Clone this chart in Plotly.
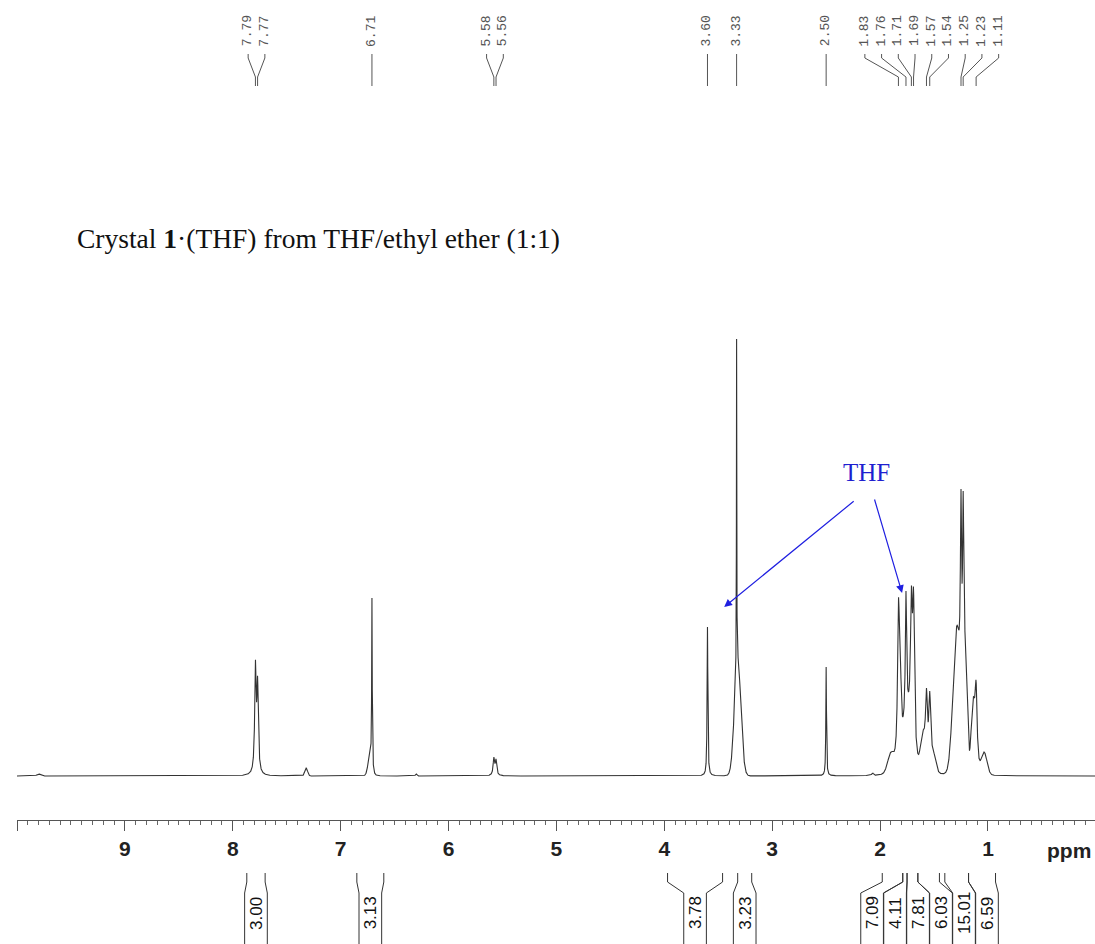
import numpy as np
import plotly.graph_objects as go

W, H = 1095, 944

# ---------------------------------------------------------------- data
# picked peak positions (ppm) listed above the trace
picked_ppm = [7.79, 7.77, 6.71, 5.58, 5.56, 3.60, 3.33, 2.50,
              1.83, 1.76, 1.71, 1.69, 1.57, 1.54, 1.25, 1.23, 1.11]

# line-shape components of the 1H spectrum:
# centre (ppm), observed height above baseline (a.u.), half width at half height (ppm),
# Lorentzian fraction of the profile (1 = Lorentzian, 0 = Gaussian)
comp_ppm = [9.80, 7.79, 7.77, 7.32, 6.73, 6.71, 6.30, 5.58, 5.56,
            3.60, 3.32, 3.33, 2.50, 2.07,
            1.90, 1.83, 1.815, 1.76, 1.745, 1.71, 1.69, 1.605, 1.57, 1.54, 1.505,
            1.29, 1.25, 1.23, 1.21, 1.139, 1.11, 1.035]
comp_height = [2, 116, 100, 8, 22, 178, 2, 19, 17,
               149, 124, 437, 109, 3,
               24, 177, 150, 185, 90, 190, 188, 45, 88, 85, 25,
               150, 287, 285, 135, 78, 95, 24]
comp_hwhm = [0.02, 0.008, 0.008, 0.015, 0.02, 0.003, 0.008, 0.008, 0.008,
             0.004, 0.035, 0.0018, 0.0035, 0.01,
             0.035, 0.01, 0.01, 0.007, 0.05, 0.01, 0.01, 0.025, 0.011, 0.011, 0.025,
             0.04, 0.007, 0.007, 0.02, 0.02, 0.012, 0.03]
comp_eta = [0, 1, 1, 0, 0, 1, 0, 1, 1,
            1, 0, 1, 1, 0,
            0, 1, 1, 1, 0, 1, 1, 0, 1, 1, 0,
            0, 1, 1, 0, 0, 1, 0]

# integral regions (ppm) and their normalised values
int_start = [7.87, 6.85, 3.97, 3.32, 1.98, 1.79, 1.75, 1.65, 1.40, 1.18]
int_end = [7.70, 6.60, 3.46, 3.19, 1.79, 1.75, 1.65, 1.45, 1.18, 0.93]
int_value = ["3.00", "3.13", "3.78", "3.23", "7.09", "4.11", "7.81", "6.03", "15.01", "6.59"]

axis_ticks = [10, 9, 8, 7, 6, 5, 4, 3, 2, 1]
axis_ticktext = ["", "9", "8", "7", "6", "5", "4", "3", "2", "1"]

# ---------------------------------------------------------------- spectrum
def profile(x, c, w, eta):
    d = (x - c) / w
    return eta / (1.0 + d ** 2) + (1 - eta) * np.exp(-np.log(2) * d ** 2)

c = np.array(comp_ppm)
w = np.array(comp_hwhm)
eta = np.array(comp_eta, dtype=float)
target = np.array(comp_height, dtype=float)

# amplitudes so that the summed trace reaches the observed height at each centre
M = profile(c[:, None], c[None, :], w[None, :], eta[None, :])
active = np.ones(len(c), bool)
amp = np.zeros(len(c))
for _ in range(50):
    sol = np.linalg.lstsq(M[:, active], target, rcond=None)[0]
    amp[:] = 0
    amp[active] = sol
    if (sol >= 0).all():
        break
    active[np.where(active)[0][sol < 0]] = False

ppm = np.linspace(10.0, 0.0, 25001)
intensity = (amp[None, :] * profile(ppm[:, None], c[None, :], w[None, :], eta[None, :])).sum(axis=1)

# ---------------------------------------------------------------- layout helpers
def py(px):
    return 1 - px / H


def spread(pos, gap):
    """Spread label positions (descending ppm) so neighbours are at least `gap` apart."""
    groups = [[p] for p in pos]

    def place(g):
        m = sum(g) / len(g)
        n = len(g)
        return [m + (n - 1) / 2 * gap - i * gap for i in range(n)]

    merged = True
    while merged:
        merged = False
        out = []
        for g in groups:
            if out and place(out[-1])[-1] - place(g)[0] < gap - 1e-9:
                out[-1] = out[-1] + g
                merged = True
            else:
                out.append(g)
        groups = out
    return [p for g in groups for p in place(g)]


fig = go.Figure()
fig.add_trace(go.Scatter(x=ppm, y=intensity, mode="lines",
                         line=dict(color="#333333", width=1.1),
                         hoverinfo="skip", showlegend=False))

shapes = []
annotations = []

# picked-peak labels along the top
label_pos = spread(picked_ppm, 0.155)
for p, t in zip(picked_ppm, label_pos):
    shapes.append(dict(type="path", xref="x", yref="paper",
                       path=f"M {t},{py(54)} L {t},{py(58)} L {p},{py(77)} L {p},{py(86)}",
                       line=dict(color="#555555", width=1)))
    annotations.append(dict(x=t, y=py(31), xref="x", yref="paper", text=f"{p:.2f}",
                            textangle=-90, showarrow=False, xanchor="center", yanchor="middle",
                            font=dict(family="Liberation Mono", size=13, color="#555555")))

# integral brackets below the axis
centres = [(a + b) / 2 for a, b in zip(int_start, int_end)]
box_pos = spread(centres, 0.213)
half = 0.105
for a, b, v, m in zip(int_start, int_end, int_value, box_pos):
    for edge, box in ((a, m + half), (b, m - half)):
        shapes.append(dict(type="path", xref="x", yref="paper",
                           path=f"M {edge},{py(873)} L {edge},{py(882)} L {box},{py(893)} L {box},{py(946)}",
                           line=dict(color="#333333", width=1)))
    annotations.append(dict(x=m, y=py(913), xref="x", yref="paper", text=v,
                            textangle=-90, showarrow=False, xanchor="center", yanchor="middle",
                            font=dict(family="Liberation Sans", size=17, color="#111111")))

# title line and solvent annotation
annotations.append(dict(x=75 / W, y=py(238), xref="paper", yref="paper",
                        text="Crystal <b>1</b>·(THF) from THF/ethyl ether (1:1)",
                        showarrow=False, xanchor="left", yanchor="middle",
                        font=dict(family="Liberation Serif", size=27.5, color="#111111")))
annotations.append(dict(x=866 / W, y=py(472), xref="paper", yref="paper", text="THF",
                        showarrow=False, xanchor="center", yanchor="middle",
                        font=dict(family="Liberation Serif", size=25, color="#1f1fd0")))
for tip_x, tip_y, ax, ay in ((3.445, 169, 131, -107), (1.796, 183, -28, -95)):
    annotations.append(dict(x=tip_x, y=tip_y, xref="x", yref="y", text="",
                            showarrow=True, ax=ax, ay=ay, axref="pixel", ayref="pixel",
                            arrowhead=2, arrowsize=1.3, arrowwidth=1.2, arrowcolor="#1f1fe0"))

annotations.append(dict(x=1093 / W, y=py(850), xref="paper", yref="paper", text="<b>ppm</b>",
                        showarrow=False, xanchor="right", yanchor="middle",
                        font=dict(family="Liberation Sans", size=21, color="#222222")))

fig.update_layout(
    width=W, height=H,
    margin=dict(l=0, r=0, t=0, b=0),
    paper_bgcolor="white", plot_bgcolor="white",
    showlegend=False,
    xaxis=dict(domain=[17 / W, 1], range=[10.0, 0.008], anchor="free", position=py(820),
               showline=True, linecolor="#555555", linewidth=1,
               ticks="outside", ticklen=10, tickwidth=1, tickcolor="#555555",
               tickvals=axis_ticks, ticktext=[f"<b>{t}</b>" if t else "" for t in axis_ticktext],
               tickfont=dict(family="Liberation Sans", size=21, color="#222222"),
               minor=dict(dtick=0.1, tick0=0, ticks="outside", ticklen=4, tickcolor="#666666"),
               showgrid=False, zeroline=False),
    yaxis=dict(domain=[py(780), py(320)], range=[-4, 456], visible=False, fixedrange=True),
    shapes=shapes,
    annotations=annotations,
)

fig.write_html("out.html")
